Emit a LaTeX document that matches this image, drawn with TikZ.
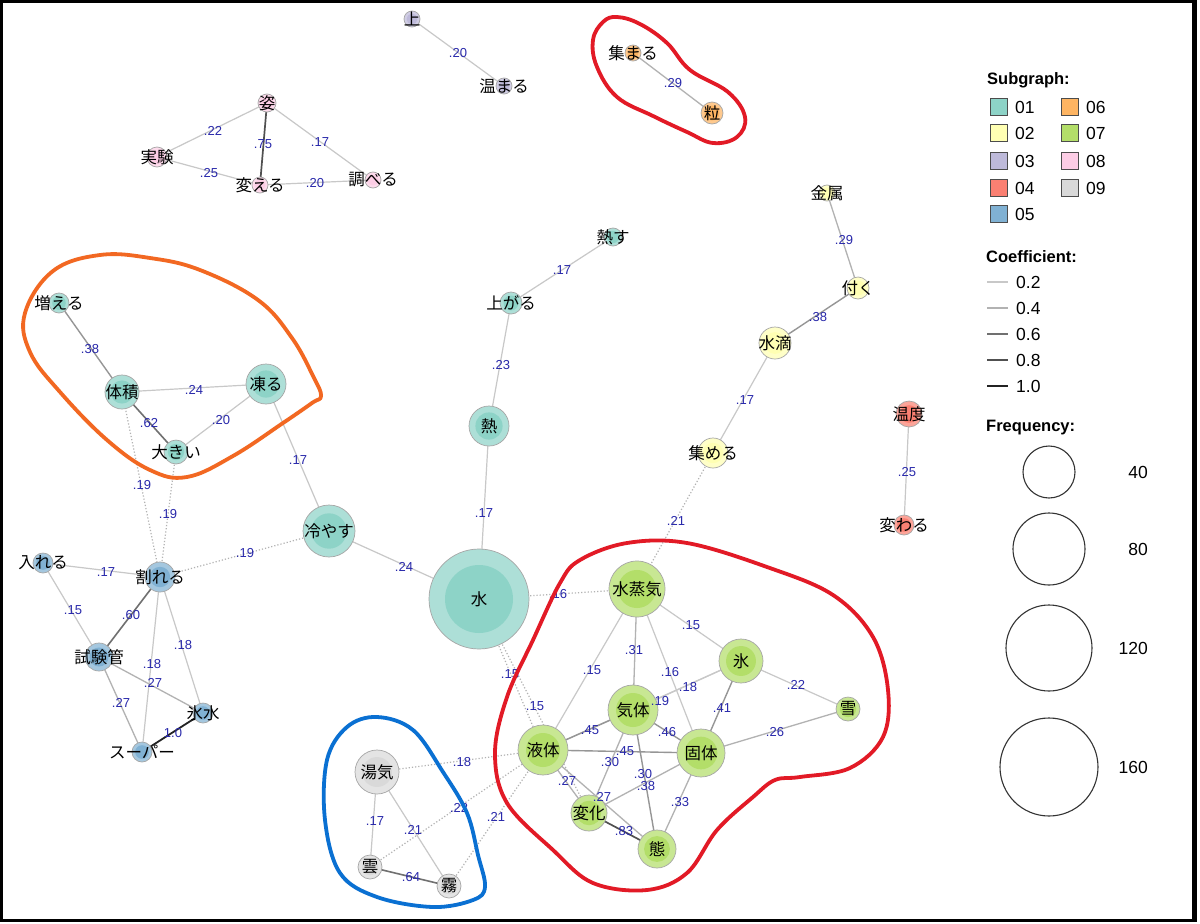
\documentclass[tikz,border=0pt]{standalone}
\usepackage{fontspec}
\setmainfont{Liberation Sans}
\newfontfamily\jp{Noto Sans CJK JP}
\pgfdeclarelayer{back}
\pgfdeclarelayer{bg}
\pgfsetlayers{back,bg,main}
\definecolor{cA}{HTML}{8DD3C7}
\definecolor{cB}{HTML}{FFFFB3}
\definecolor{cC}{HTML}{BEBADA}
\definecolor{cD}{HTML}{FB8072}
\definecolor{cE}{HTML}{80B1D3}
\definecolor{cF}{HTML}{FDB462}
\definecolor{cG}{HTML}{B3DE69}
\definecolor{cH}{HTML}{FCCDE5}
\definecolor{cI}{HTML}{D9D9D9}
\definecolor{labblue}{RGB}{40,40,170}
\definecolor{lorange}{RGB}{242,104,34}
\definecolor{lred}{RGB}{226,26,38}
\definecolor{lblue}{RGB}{10,112,210}
\definecolor{gA}{RGB}{200,200,200}
\definecolor{gB}{RGB}{178,178,178}
\definecolor{gC}{RGB}{150,150,150}
\definecolor{gD}{RGB}{112,112,112}
\definecolor{gE}{RGB}{80,80,80}
\definecolor{gF}{RGB}{35,35,35}
\tikzset{
  vtx/.style={circle, draw=black!35, line width=0.7pt, inner sep=0pt},
  vtext/.style={font=\jp\fontsize{16.5}{17}\selectfont, text=black, inner sep=0pt},
  el/.style={font=\fontsize{13}{14}\selectfont, text=labblue, inner sep=0pt},
  eA/.style={draw=gA, line width=1.2pt},
  eB/.style={draw=gB, line width=1.3pt},
  eC/.style={draw=gC, line width=1.4pt},
  eD/.style={draw=gD, line width=1.6pt},
  eE/.style={draw=gE, line width=1.7pt},
  eF/.style={draw=gF, line width=1.8pt},
  eDot/.style={draw=gB, dotted, line width=1.2pt},
  loopline/.style={line width=3.8pt, line cap=round, line join=round},
  legh/.style={font=\bfseries\fontsize{16.5}{17}\selectfont, anchor=west, inner sep=0pt},
  legt/.style={font=\fontsize{17.5}{18}\selectfont, anchor=west, inner sep=0pt},
  legsq/.style={draw=black!70, line width=1pt},
}
\newcommand\vx[5]{%
  \node[vtx, fill=#5!72!white, minimum size={2*#4*1pt}] (#1) at (#2,#3) {};
  \fill[#5] (#1.center) circle ({0.68*#4*1pt});
}
\newcommand\vt[2]{\node[vtext] at (#1.center) {#2};}
\newcommand\el[3]{\node[el] at (#1,#2) {#3};}
\begin{document}
\begin{tikzpicture}[x=1pt,y=-1pt]
\useasboundingbox (0,0) rectangle (1200,924);
\begin{pgfonlayer}{back}
\fill[white] (0,0) rectangle (1200,924);
\fill[black] (0,0) rectangle (1197,922);
\fill[white] (3,3) rectangle (1192,919);
\end{pgfonlayer}

% ---------- vertices ----------
\vx{sugata}{267}{103}{9}{cH}
\vx{jikken}{157}{157}{10}{cH}
\vx{kaeru}{260}{185}{8}{cH}
\vx{shiraberu}{373}{180}{8}{cH}
\vx{ue}{412}{19}{8}{cC}
\vx{atatamaru}{504}{86}{8}{cC}
\vx{atsumaru}{633}{53}{8}{cF}
\vx{tsubu}{712}{113}{11}{cF}
\vx{nessu}{613}{237}{9}{cA}
\vx{agaru}{511}{303}{11}{cA}
\vx{netsu}{489}{426}{20}{cA}
\vx{mizu}{479}{599}{50}{cA}
\vx{hiyasu}{329}{531}{26}{cA}
\vx{kooru}{266}{384}{20}{cA}
\vx{taiseki}{122}{392}{17}{cA}
\vx{ookii}{176}{452}{12}{cA}
\vx{fueru}{59}{303}{10}{cA}
\vx{ireru}{43}{563}{10}{cE}
\vx{wareru}{160}{577}{15}{cE}
\vx{shikenkan}{99}{657}{14}{cE}
\vx{korimizu}{203}{713}{10}{cE}
\vx{super}{142}{752}{10}{cE}
\vx{yuge}{377}{772}{22}{cI}
\vx{kumo}{370}{867}{12}{cI}
\vx{kiri}{449}{886}{12}{cI}
\vx{suijouki}{637}{589}{28}{cG}
\vx{koori}{741}{661}{22}{cG}
\vx{yuki}{848}{709}{12}{cG}
\vx{kitai}{633}{710}{25}{cG}
\vx{ekitai}{543}{750}{25}{cG}
\vx{kotai}{701}{753}{24}{cG}
\vx{henka}{589}{813}{18}{cG}
\vx{tai}{657}{849}{19}{cG}
\vx{kinzoku}{827}{193}{8}{cB}
\vx{tsuku}{858}{288}{11}{cB}
\vx{suiteki}{775}{343}{16}{cB}
\vx{atsumeru}{713}{453}{15}{cB}
\vx{ondo}{909}{414}{13}{cD}
\vx{kawaru}{904}{525}{10}{cD}

% ---------- edges ----------
\begin{pgfonlayer}{bg}
\draw[eA] (sugata.center) -- (jikken.center);
\draw[eE] (sugata.center) -- (kaeru.center);
\draw[eA] (sugata.center) -- (shiraberu.center);
\draw[eA] (jikken.center) -- (kaeru.center);
\draw[eA] (kaeru.center) -- (shiraberu.center);
\draw[eA] (ue.center) -- (atatamaru.center);
\draw[eB] (atsumaru.center) -- (tsubu.center);
\draw[eA] (nessu.center) -- (agaru.center);
\draw[eA] (agaru.center) -- (netsu.center);
\draw[eA] (netsu.center) -- (mizu.center);
\draw[eA] (hiyasu.center) -- (mizu.center);
\draw[eA] (kooru.center) -- (hiyasu.center);
\draw[eA] (taiseki.center) -- (kooru.center);
\draw[eA] (kooru.center) -- (ookii.center);
\draw[eD] (taiseki.center) -- (ookii.center);
\draw[eC] (fueru.center) -- (taiseki.center);
\draw[eDot] (taiseki.center) -- (wareru.center);
\draw[eDot] (ookii.center) -- (wareru.center);
\draw[eDot] (wareru.center) -- (hiyasu.center);
\draw[eDot] (mizu.center) -- (suijouki.center);
\draw[eDot] (mizu.center) -- (ekitai.center);
\draw[eDot] (mizu.center) -- (henka.center);
\draw[eDot] (yuge.center) -- (ekitai.center);
\draw[eDot] (kumo.center) -- (ekitai.center);
\draw[eDot] (kiri.center) -- (ekitai.center);
\draw[eDot] (atsumeru.center) -- (suijouki.center);
\draw[eA] (ireru.center) -- (wareru.center);
\draw[eA] (ireru.center) -- (shikenkan.center);
\draw[eD] (wareru.center) -- (shikenkan.center);
\draw[eA] (wareru.center) -- (super.center);
\draw[eA] (wareru.center) -- (korimizu.center);
\draw[eB] (shikenkan.center) -- (korimizu.center);
\draw[eB] (shikenkan.center) -- (super.center);
\draw[eF] (super.center) -- (korimizu.center);
\draw[eA] (yuge.center) -- (kumo.center);
\draw[eA] (yuge.center) -- (kiri.center);
\draw[eD] (kumo.center) -- (kiri.center);
\draw[eA] (suijouki.center) -- (koori.center);
\draw[eA] (suijouki.center) -- (ekitai.center);
\draw[eB] (suijouki.center) -- (kitai.center);
\draw[eA] (suijouki.center) -- (kotai.center);
\draw[eA] (koori.center) -- (kitai.center);
\draw[eA] (ekitai.center) -- (koori.center);
\draw[eA] (koori.center) -- (yuki.center);
\draw[eC] (koori.center) -- (kotai.center);
\draw[eB] (yuki.center) -- (kotai.center);
\draw[eC] (kitai.center) -- (ekitai.center);
\draw[eC] (kitai.center) -- (kotai.center);
\draw[eC] (ekitai.center) -- (kotai.center);
\draw[eB] (kitai.center) -- (henka.center);
\draw[eC] (kitai.center) -- (tai.center);
\draw[eB] (henka.center) -- (kotai.center);
\draw[eB] (ekitai.center) -- (henka.center);
\draw[eB] (ekitai.center) -- (tai.center);
\draw[eE] (henka.center) -- (tai.center);
\draw[eB] (kotai.center) -- (tai.center);
\draw[eB] (kinzoku.center) -- (tsuku.center);
\draw[eC] (tsuku.center) -- (suiteki.center);
\draw[eA] (suiteki.center) -- (atsumeru.center);
\draw[eA] (ondo.center) -- (kawaru.center);
\end{pgfonlayer}

% ---------- node texts ----------
\vt{sugata}{姿}\vt{jikken}{実験}\vt{kaeru}{変える}\vt{shiraberu}{調べる}
\vt{ue}{上}\vt{atatamaru}{温まる}\vt{atsumaru}{集まる}\vt{tsubu}{粒}
\vt{nessu}{熱す}\vt{agaru}{上がる}\vt{netsu}{熱}\vt{mizu}{水}
\vt{hiyasu}{冷やす}\vt{kooru}{凍る}\vt{taiseki}{体積}\vt{ookii}{大きい}
\vt{fueru}{増える}\vt{ireru}{入れる}\vt{wareru}{割れる}\vt{shikenkan}{試験管}
\vt{korimizu}{氷水}\vt{super}{スーパー}\vt{yuge}{湯気}\vt{kumo}{雲}\vt{kiri}{霧}
\vt{suijouki}{水蒸気}\vt{koori}{氷}\vt{yuki}{雪}\vt{kitai}{気体}\vt{ekitai}{液体}
\vt{kotai}{固体}\vt{henka}{変化}\vt{tai}{態}\vt{kinzoku}{金属}\vt{tsuku}{付く}
\vt{suiteki}{水滴}\vt{atsumeru}{集める}\vt{ondo}{温度}\vt{kawaru}{変わる}

% ---------- edge labels ----------
\el{213}{131}{.22}\el{263}{144}{.75}\el{320}{142}{.17}\el{209}{173}{.25}\el{315}{183}{.20}
\el{458}{53}{.20}\el{673}{83}{.29}
\el{562}{270}{.17}\el{501}{365}{.23}\el{484}{513}{.17}\el{404}{567}{.24}
\el{298}{460}{.17}\el{194}{390}{.24}\el{221}{420}{.20}\el{149}{423}{.62}\el{90}{349}{.38}
\el{142}{485}{.19}\el{168}{514}{.19}\el{245}{553}{.19}
\el{558}{594}{.16}\el{510}{674}{.15}\el{535}{706}{.15}
\el{462}{762}{.18}\el{459}{808}{.22}\el{496}{817}{.21}\el{676}{521}{.21}
\el{106}{572}{.17}\el{73}{610}{.15}\el{131}{615}{.60}\el{152}{664}{.18}\el{183}{645}{.18}
\el{153}{683}{.27}\el{121}{703}{.27}\el{173}{733}{1.0}
\el{375}{821}{.17}\el{413}{830}{.21}\el{411}{877}{.64}
\el{691}{625}{.15}\el{592}{670}{.15}\el{634}{650}{.31}\el{670}{672}{.16}
\el{688}{687}{.18}\el{796}{685}{.22}\el{722}{708}{.41}\el{775}{732}{.26}
\el{660}{701}{.19}
\el{590}{730}{.45}\el{667}{732}{.46}\el{625}{751}{.45}\el{610}{762}{.30}
\el{643}{774}{.30}\el{646}{786}{.38}
\el{567}{781}{.27}\el{602}{797}{.27}\el{624}{831}{.83}\el{680}{802}{.33}
\el{844}{240}{.29}\el{818}{317}{.38}\el{745}{400}{.17}\el{907}{472}{.25}

% ---------- hand-drawn loops ----------
\draw[loopline, lorange] plot[smooth cycle, tension=0.65] coordinates {
 (53,271) (100,255) (150,258) (200,270) (258,300) (292,338) (314,378) (321,396)
 (312,403) (283,423) (233,456) (187,477) (150,470) (107,440) (60,392) (30,352) (25,313)};
\draw[loopline, lred] plot[smooth cycle, tension=0.65] coordinates {
 (617,17) (640,24) (667,43) (690,70) (728,92) (745,117) (737,137) (713,143)
 (687,132) (653,116) (617,97) (597,67) (593,40) (603,22)};
\draw[loopline, lred] plot[smooth cycle, tension=0.6] coordinates {
 (627,543) (687,543) (767,567) (833,595) (873,637) (888,690) (883,737) (850,768)
 (800,777) (775,780) (753,797) (717,830) (687,873) (647,890) (593,883) (553,850)
 (507,803) (495,753) (507,697) (533,640) (560,583) (580,560)};
\draw[loopline, lblue] plot[smooth cycle, tension=0.6] coordinates {
 (377,717) (413,730) (443,772) (467,813) (478,855) (485,887) (473,900) (433,907)
 (377,897) (340,873) (325,820) (327,760) (347,727)};

% ---------- legend ----------
\node[legh] at (987,80) {Subgraph:};
\foreach \y/\a/\ca/\b/\cb in {107/01/cA/06/cF, 133/02/cB/07/cG, 161/03/cC/08/cH, 188/04/cD/09/cI} {
  \draw[legsq, fill=\ca] (990.5,\y-8.5) rectangle (1007.5,\y+8.5);
  \node[legt] at (1015,\y) {\a};
  \draw[legsq, fill=\cb] (1061,\y-8.5) rectangle (1078,\y+8.5);
  \node[legt] at (1086,\y) {\b};
}
\draw[legsq, fill=cE] (990.5,205.5) rectangle (1007.5,222.5);
\node[legt] at (1015,214) {05};
\node[legh] at (986,257) {Coefficient:};
\foreach \y/\c/\t in {282/gA/0.2, 308/gB/0.4, 334/gD/0.6, 360/gE/0.8, 386/gF/1.0} {
  \draw[draw=\c, line width=1.6pt] (987,\y) -- (1008,\y);
  \node[legt] at (1016,\y) {\t};
}
\node[legh] at (986,428) {Frequency:};
\foreach \y/\r/\t in {472/26/40, 549/36/80, 648/43/120, 767/49/160} {
  \draw[black!80, line width=1.1pt] (1049,\y) circle (\r);
  \node[font=\fontsize{17.5}{18}\selectfont, anchor=east, inner sep=0pt] at (1148,\y) {\t};
}
\end{tikzpicture}
\end{document}
